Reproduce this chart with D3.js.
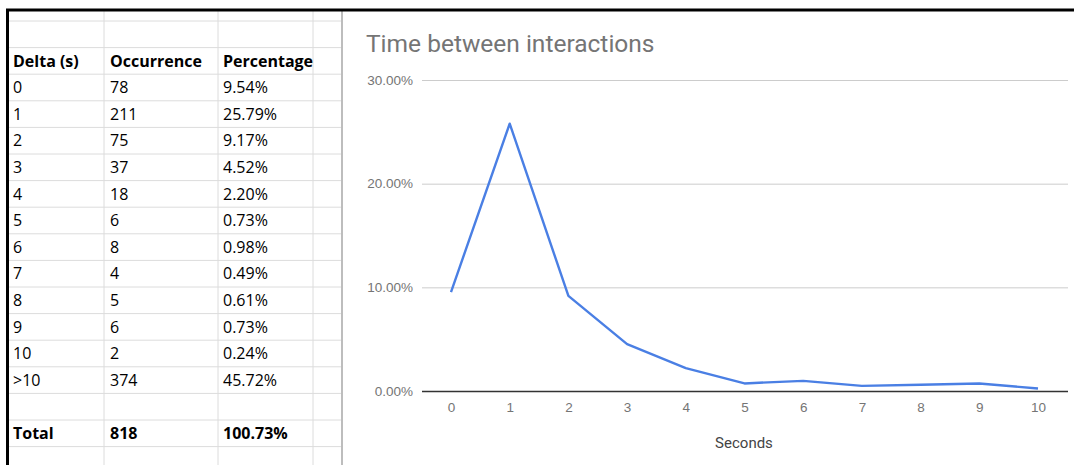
<!DOCTYPE html>
<html>
<head>
<meta charset="utf-8">
<script src="https://cdn.jsdelivr.net/npm/d3@7"></script>
<style>
  body { margin: 0; background: #fff; }
  svg { display: block; }
</style>
</head>
<body>
<svg id="sheet" width="1074" height="465"></svg>
<script>
// table data (as shown in the sheet)
const deltas = ["0", "1", "2", "3", "4", "5", "6", "7", "8", "9", "10", ">10"];
const occurrences = [78, 211, 75, 37, 18, 6, 8, 4, 5, 6, 2, 374];
const percentages = [9.54, 25.79, 9.17, 4.52, 2.20, 0.73, 0.98, 0.49, 0.61, 0.73, 0.24, 45.72];
const headers = ["Delta (s)", "Occurrence", "Percentage"];
const totalRow = ["Total", "818", "100.73%"];

// chart data (0..10 seconds)
const seconds = [0, 1, 2, 3, 4, 5, 6, 7, 8, 9, 10];
const chartPct = [9.54, 25.79, 9.17, 4.52, 2.20, 0.73, 0.98, 0.49, 0.61, 0.73, 0.24];
const yTicks = [0, 10, 20, 30];

const svg = d3.select("#sheet");

// ---- spreadsheet part ----
const colX = [8, 104, 218, 313, 342];
const rowH = 26.6;
const rowTop = 21;
const tableFont = "'Open Sans', 'Liberation Sans', sans-serif";

const gridG = svg.append("g");
// horizontal row lines
d3.range(0, 17).forEach(i => {
    const y = rowTop + i * rowH;
    if (y > 465) return;
    gridG.append("line").attr("x1", colX[0]).attr("x2", colX[4]).attr("y1", y).attr("y2", y)
        .attr("stroke", "#dcdcdc").attr("stroke-width", 1);
});
// vertical column lines
colX.slice(1, 4).forEach(x => {
    gridG.append("line").attr("x1", x).attr("x2", x).attr("y1", 10).attr("y2", 465)
        .attr("stroke", "#dcdcdc").attr("stroke-width", 1);
});
// divider between table and chart
gridG.append("line").attr("x1", 342).attr("x2", 342).attr("y1", 10).attr("y2", 465)
    .attr("stroke", "#bdbdbd").attr("stroke-width", 2);
// thick black frame top & left
gridG.append("line").attr("x1", 6).attr("x2", 1074).attr("y1", 10).attr("y2", 10)
    .attr("stroke", "#000").attr("stroke-width", 3);
gridG.append("line").attr("x1", 7.5).attr("x2", 7.5).attr("y1", 9).attr("y2", 465)
    .attr("stroke", "#000").attr("stroke-width", 3);

const textX = [13, 110, 223];
const rowCenter = r => rowTop + (r + 0.5) * rowH;

const tableG = svg.append("g").style("font-family", tableFont).style("font-size", "16px").attr("fill", "#000");
headers.forEach((h, c) => {
    tableG.append("text").attr("x", textX[c]).attr("y", rowCenter(1)).attr("dy", "0.36em")
        .attr("font-weight", "bold").text(h);
});
deltas.forEach((d, i) => {
    const y = rowCenter(i + 2);
    const vals = [d, String(occurrences[i]), percentages[i].toFixed(2) + "%"];
    vals.forEach((v, c) => {
        tableG.append("text").attr("x", textX[c]).attr("y", y).attr("dy", "0.36em").text(v);
    });
});
totalRow.forEach((v, c) => {
    tableG.append("text").attr("x", textX[c]).attr("y", rowCenter(deltas.length + 3)).attr("dy", "0.36em")
        .attr("font-weight", "bold").text(v);
});

// ---- chart part ----
const chartFont = "Roboto, 'Noto Sans', sans-serif";
const plot = {left: 422, right: 1068, top: 80, bottom: 391};

const x = d3.scalePoint().domain(seconds).range([451, 1038]);
const y = d3.scaleLinear().domain([0, 30]).range([plot.bottom, plot.top]);

const chartG = svg.append("g").style("font-family", chartFont);

chartG.append("text").attr("x", 366).attr("y", 52).attr("fill", "#757575")
    .style("font-size", "24.5px").text("Time between interactions");

// gridlines
const yAxis = d3.axisLeft(y).tickValues(yTicks).tickSize(plot.left - plot.right)
    .tickFormat(d => d.toFixed(2) + "%").tickPadding(9);
const yG = chartG.append("g").attr("transform", `translate(${plot.left},0)`).call(yAxis);
yG.select(".domain").remove();
yG.selectAll(".tick line").attr("stroke", "#cccccc").attr("x1", plot.right - plot.left).attr("x2", 0);
yG.selectAll(".tick text").attr("fill", "#757575").style("font-size", "13.5px");
yG.selectAll(".tick").filter(d => d === 0).select("line").attr("stroke", "#333").attr("stroke-width", 1.3);

const xAxis = d3.axisBottom(x).tickSize(0).tickPadding(11);
const xG = chartG.append("g").attr("transform", `translate(0,${plot.bottom})`).call(xAxis);
xG.select(".domain").remove();
xG.selectAll(".tick text").attr("fill", "#757575").style("font-size", "13.5px");

chartG.append("text").attr("x", 744).attr("y", 448).attr("text-anchor", "middle")
    .attr("fill", "#444").style("font-size", "15px").text("Seconds");

const line = d3.line().x((d, i) => x(seconds[i])).y(d => y(d));
chartG.append("path").datum(chartPct)
    .attr("fill", "none").attr("stroke", "#4a7fe4").attr("stroke-width", 2.4)
    .attr("stroke-linejoin", "round").attr("d", line);
</script>
</body>
</html>
